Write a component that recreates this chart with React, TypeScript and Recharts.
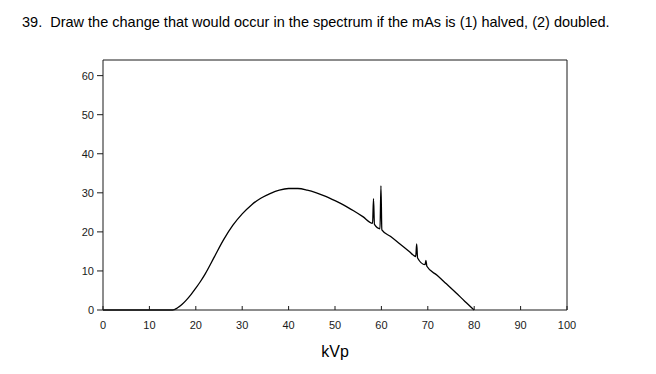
import React from 'react';
import { LineChart, Line, XAxis, YAxis, ReferenceLine } from 'recharts';

// spectrum (kVp -> relative intensity)
const kvp = [
  0, 15, 16, 17, 18, 19, 20, 21, 22, 24, 26, 28, 30, 32, 34, 36, 38, 40, 42, 44, 46, 48, 50, 52, 54, 56,
  58.1, 58.3, 58.5, 59.7, 59.9, 60.1, 62, 64, 66, 67.4, 67.6, 67.8, 69.4, 69.6, 69.8, 72, 74, 76, 78, 80,
];
const intensity = [
  0, 0, 0.5, 1.4, 2.6, 4, 5.6, 7.3, 9.2, 13.6, 18, 21.7, 24.6, 26.9, 28.6, 29.8, 30.7, 31.1, 31.1, 30.7, 30, 29.1, 28, 26.8, 25.4, 23.9,
  22.2, 28.5, 21.9, 20.8, 31.8, 20.5, 18.8, 16.9, 15, 13.7, 16.9, 13.3, 11.6, 12.7, 11.2, 8.9, 6.7, 4.5, 2.2, 0,
];
const xTicks = [0, 10, 20, 30, 40, 50, 60, 70, 80, 90, 100];
const yTicks = [0, 10, 20, 30, 40, 50, 60];

const title = '39.  Draw the change that would occur in the spectrum if the mAs is (1) halved, (2) doubled.';
const FONT = '"Liberation Sans", Arial, sans-serif';
const INK = '#1a1a1a';

const data = kvp.map((k, i) => ({ kvp: k, value: intensity[i] }));

// x ticks in the scan point inward (upwards)
const XTick = ({ x, y, payload }: any) => (
  <g>
    <line x1={x} y1={y} x2={x} y2={y - 4} stroke={INK} strokeWidth={1} />
    <text x={x} y={y + 19} textAnchor="middle" fontSize={11} fontFamily={FONT} fill={INK}>
      {payload.value}
    </text>
  </g>
);

export default function App() {
  return (
    <div style={{ position: 'relative', width: 640, height: 358 }}>
      <div
        style={{
          position: 'absolute', left: 14, top: 6, fontFamily: FONT, fontSize: 14.5,
          color: '#000', whiteSpace: 'pre',
        }}
      >
        {title}
      </div>
      <LineChart width={640} height={358} data={data} margin={{ top: 52, right: 81, bottom: 26, left: 55 }}>
        <XAxis
          dataKey="kvp"
          type="number"
          domain={[0, 100]}
          ticks={xTicks}
          tickLine={false}
          tickSize={0}
          tickMargin={0}
          height={30}
          stroke={INK}
          tick={<XTick />}
        />
        <YAxis
          type="number"
          domain={[0, 64]}
          ticks={yTicks}
          width={40}
          tickSize={6}
          tickMargin={3}
          stroke={INK}
          tick={{ fontSize: 11, fontFamily: FONT, fill: INK }}
        />
        <ReferenceLine y={64} stroke={INK} strokeWidth={1} />
        <ReferenceLine x={100} stroke={INK} strokeWidth={1} />
        <Line
          type="monotone"
          dataKey="value"
          stroke="#000"
          strokeWidth={1.3}
          dot={false}
          isAnimationActive={false}
        />
      </LineChart>
      <div
        style={{
          position: 'absolute', left: 327, top: 344, transform: 'translate(-50%, -50%)',
          fontFamily: FONT, fontSize: 16, color: '#000',
        }}
      >
        kVp
      </div>
    </div>
  );
}
